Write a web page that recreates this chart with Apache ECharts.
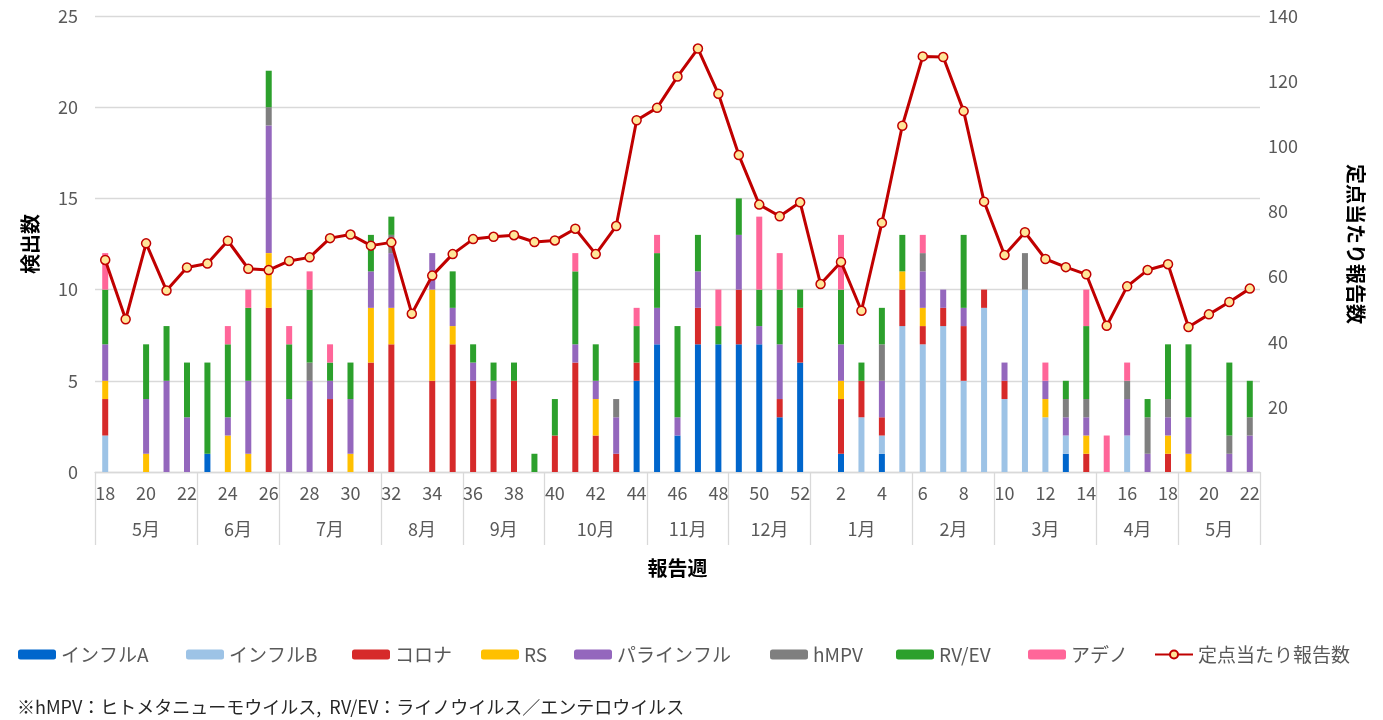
<!DOCTYPE html>
<html><head><meta charset="utf-8">
<script src="https://cdn.jsdelivr.net/npm/echarts@6/dist/echarts.min.js"></script>
<style>html,body{margin:0;padding:0;background:#fff}#c{width:1383px;height:720px}</style>
</head><body><div id="c"></div>
<script>
const weeks = ['18','19','20','21','22','23','24','25','26','27','28','29','30','31','32','33','34','35','36','37','38','39','40','41','42','43','44','45','46','47','48','49','50','51','52','1','2','3','4','5','6','7','8','9','10','11','12','13','14','15','16','17','18','19','20','21','22'];
const monthNames = ['5月','6月','7月','8月','9月','10月','11月','12月','1月','2月','3月','4月','5月'];
const monthSpans = [5,4,5,4,4,5,4,4,5,4,5,4,4];

const fluA   = [0,0,0,0,0,1,0,0,0,0,0,0,0,0,0,0,0,0,0,0,0,0,0,0,0,0,5,7,2,7,7,7,7,3,6,0,1,0,1,0,0,0,0,0,0,0,0,1,0,0,0,0,0,0,0,0,0];
const fluB   = [2,0,0,0,0,0,0,0,0,0,0,0,0,0,0,0,0,0,0,0,0,0,0,0,0,0,0,0,0,0,0,0,0,0,0,0,0,3,1,8,7,8,5,9,4,10,3,1,0,0,2,0,0,0,0,0,0];
const corona = [2,0,0,0,0,0,0,0,9,0,0,4,0,6,7,0,5,7,5,4,5,0,2,6,2,1,1,0,0,2,0,3,0,1,3,0,3,2,1,2,1,1,3,1,1,0,0,0,1,0,0,0,1,0,0,0,0];
const rs     = [1,0,1,0,0,0,2,1,3,0,0,0,1,3,2,0,5,1,0,0,0,0,0,0,2,0,0,0,0,0,0,0,0,0,0,0,1,0,0,1,1,0,0,0,0,0,1,0,1,0,0,0,1,1,0,0,0];
const para   = [2,0,3,5,3,0,1,4,7,4,5,1,3,2,3,0,2,1,1,1,0,0,0,1,1,2,0,2,1,2,0,3,1,3,0,0,2,0,2,0,2,1,1,0,1,0,1,1,1,0,2,1,1,2,0,1,2];
const hmpv   = [0,0,0,0,0,0,0,0,1,0,1,0,0,0,1,0,0,0,0,0,0,0,0,0,0,1,0,0,0,0,0,0,0,0,0,0,0,0,2,0,1,0,0,0,0,2,0,1,1,0,1,2,1,0,0,1,1];
const rvev   = [3,0,3,3,3,5,4,4,2,3,4,1,2,2,1,0,0,2,1,1,1,1,2,4,2,0,2,3,5,2,1,2,2,3,1,0,3,1,2,2,0,0,4,0,0,0,0,1,4,0,0,1,3,4,0,4,2];
const adeno  = [2,0,0,0,0,0,1,1,0,1,1,1,0,0,0,0,0,0,0,0,0,0,0,1,0,0,1,1,0,0,2,0,4,2,0,0,3,0,0,0,1,0,0,0,0,0,1,0,2,2,1,0,0,0,0,0,0];
const perSentinel = [65.1,46.9,70.2,55.7,62.8,64.0,71.0,62.4,62.0,64.8,65.9,71.8,72.9,69.5,70.5,48.6,60.3,66.9,71.5,72.2,72.7,70.6,71.1,74.7,66.9,75.5,108.0,111.8,121.4,130.0,116.1,97.3,82.1,78.5,82.8,57.7,64.5,49.5,76.5,106.3,127.6,127.4,110.8,83.0,66.6,73.6,65.4,62.9,60.7,44.9,57.0,62.0,63.8,44.5,48.4,52.2,56.3];

const barSeries = [
  ['インフルA', fluA, '#0066CC'],
  ['インフルB', fluB, '#9DC3E6'],
  ['コロナ', corona, '#D62A2A'],
  ['RS', rs, '#FFC000'],
  ['パラインフル', para, '#9467BD'],
  ['hMPV', hmpv, '#7F7F7F'],
  ['RV/EV', rvev, '#2CA02C'],
  ['アデノ', adeno, '#FF6699']
];
const lineName = '定点当たり報告数';
const legendNames = barSeries.map(b => b[0]).concat([lineName]);
const legendLefts = [13, 181, 347, 476, 569, 765, 891, 1023, 1149];

const monthStarts = [];
const monthLabelIdx = {};
let acc = 0;
monthSpans.forEach((s, i) => {
  monthStarts.push(acc);
  monthLabelIdx[acc + (s % 2 === 1 ? (s - 1) / 2 : s / 2 - 1)] = { name: monthNames[i], even: s % 2 === 0 };
  acc += s;
});

const FONT = '"Noto Sans CJK JP", "Noto Sans", sans-serif';
const chart = echarts.init(document.getElementById('c'));
const series = barSeries.map(([n, d, c]) => ({
  name: n, type: 'bar', stack: 'total', data: d, barWidth: 6,
  itemStyle: { color: c }, xAxisIndex: 0, yAxisIndex: 0
}));
series.push({
  name: lineName, type: 'line', data: perSentinel, xAxisIndex: 0, yAxisIndex: 1,
  symbol: 'circle', symbolSize: 9, z: 5,
  lineStyle: { color: '#C00000', width: 3 },
  itemStyle: { color: '#FFE699', borderColor: '#C00000', borderWidth: 1.5 }
});

const legends = legendNames.map((n, i) => ({
  left: legendLefts[i], top: 640, itemWidth: 38, itemHeight: 10, itemGap: 5,
  textStyle: { fontSize: 19, color: '#595959', fontFamily: FONT },
  data: [n]
}));

chart.setOption({
  animation: false,
  textStyle: { fontFamily: FONT },
  grid: { left: 95, right: 123, top: 16, bottom: 248 },
  legend: legends,
  title: {
    text: '※hMPV：ヒトメタニューモウイルス,  RV/EV：ライノウイルス／エンテロウイルス',
    left: 12, top: 693,
    textStyle: { fontSize: 18, fontWeight: 'normal', color: '#262626', fontFamily: FONT }
  },
  xAxis: [{
    type: 'category', data: weeks, position: 'bottom',
    axisLine: { lineStyle: { color: '#D9D9D9', width: 1.3 } },
    axisTick: { show: false },
    axisLabel: { interval: 1, color: '#595959', fontSize: 18, margin: 12, fontFamily: FONT }
  }, {
    type: 'category', data: weeks, position: 'bottom',
    axisLine: { show: false },
    axisTick: { show: true, length: 73, lineStyle: { color: '#D9D9D9', width: 1.3 },
      interval: (i) => monthStarts.indexOf(i) >= 0 },
    axisLabel: {
      color: '#595959', fontSize: 18, margin: 48, fontFamily: FONT,
      interval: (i) => monthLabelIdx[i] !== undefined,
      formatter: (v, i) => {
        const m = monthLabelIdx[i];
        if (!m) return '';
        return m.even ? '{e|' + m.name + '}' : '{o|' + m.name + '}';
      },
      rich: {
        o: { fontSize: 18, color: '#595959', fontFamily: FONT },
        e: { fontSize: 18, color: '#595959', fontFamily: FONT, padding: [0, 0, 0, 20.5] }
      }
    },
    name: '報告週', nameLocation: 'middle', nameGap: 86,
    nameTextStyle: { fontSize: 20, fontWeight: 'bold', color: '#000', fontFamily: FONT }
  }],
  yAxis: [{
    type: 'value', min: 0, max: 25, interval: 5,
    axisLine: { show: false }, axisTick: { show: false },
    axisLabel: { color: '#595959', fontSize: 18, margin: 17, fontFamily: FONT },
    splitLine: { lineStyle: { color: '#D9D9D9', width: 1.3 } },
    name: '検出数', nameLocation: 'middle', nameGap: 55, nameRotate: 90,
    nameTextStyle: { fontSize: 20, fontWeight: 'bold', color: '#000', fontFamily: FONT }
  }, {
    type: 'value', min: 0, max: 140, interval: 20, position: 'right',
    axisLine: { show: false }, axisTick: { show: false },
    axisLabel: { color: '#595959', fontSize: 18, margin: 8, fontFamily: FONT,
      formatter: (v) => v === 0 ? '' : String(v) },
    splitLine: { show: false },
    name: lineName, nameLocation: 'middle', nameGap: 86, nameRotate: -90,
    nameTextStyle: { fontSize: 20, fontWeight: 'bold', color: '#000', fontFamily: FONT }
  }],
  series: series
});
</script></body></html>
